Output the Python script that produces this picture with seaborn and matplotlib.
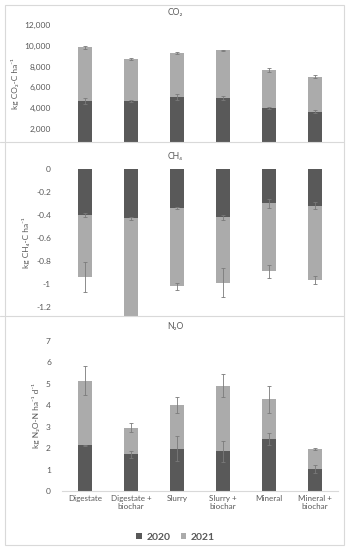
import numpy as np
import pandas as pd
import matplotlib
matplotlib.use("Agg")
import matplotlib.pyplot as plt
import seaborn as sns
from matplotlib.patches import Patch, Rectangle
from matplotlib.lines import Line2D

sns.set_theme(style="white")
plt.rcParams['font.family'] = ['Lato', 'DejaVu Sans']

categories = ["Digestate", "Digestate +\nbiochar", "Slurry", "Slurry +\nbiochar", "Mineral", "Mineral +\nbiochar"]

co2_2020 = [4700, 4700, 5050, 5000, 4050, 3680]
co2_2021 = [5150, 4050, 4240, 4560, 3620, 3360]
co2_err2020 = [300, 120, 300, 180, 100, 100]
co2_err2021 = [120, 80, 80, 80, 180, 120]

ch4_2020 = [-0.40, -0.43, -0.34, -0.42, -0.30, -0.32]
ch4_2021 = [-0.54, -0.92, -0.68, -0.57, -0.59, -0.65]
ch4_err2020 = [0.02, 0.01, 0.01, 0.02, 0.04, 0.03]
ch4_err2021 = [0.13, 0.01, 0.03, 0.125, 0.055, 0.035]

n2o_2020 = [2.12, 1.71, 1.97, 1.85, 2.41, 1.03]
n2o_2021 = [3.01, 1.24, 2.05, 3.06, 1.86, 0.93]
n2o_err2020 = [0.03, 0.15, 0.57, 0.48, 0.28, 0.17]
n2o_err2021 = [0.68, 0.22, 0.38, 0.52, 0.62, 0.04]

DARK = "#595959"
LIGHT = "#ababab"
TXT = "#595959"
ERR = "#7a7a7a"

W, H = 351, 550
fig = plt.figure(figsize=(W / 100, H / 100), dpi=100)

# outer frame and separators
fig.patches.append(Rectangle((5 / W, 1 - 545 / H), 339 / W, 540 / H, transform=fig.transFigure,
                             fill=False, edgecolor="#d9d9d9", linewidth=0.8))
for ysep in (142, 316):
    fig.lines.append(Line2D([0 / W, 344 / W], [1 - ysep / H, 1 - ysep / H],
                            transform=fig.transFigure, color="#d9d9d9", linewidth=0.8))

left = 62 / W
width = 276 / W


def panel(top_px, bot_px, v2020, v2021, e2020, e2021, ylim, ticks, ticklabels, title, ylabel, title_px, show_x):
    ax = fig.add_axes([left, 1 - bot_px / H, width, (bot_px - top_px) / H])
    total = [a + b for a, b in zip(v2020, v2021)]
    df = pd.DataFrame({"cat": categories, "total": total, "y2020": v2020})
    sns.barplot(data=df, x="cat", y="total", color=LIGHT, saturation=1, width=0.32,
                errorbar=None, ax=ax, linewidth=0)
    sns.barplot(data=df, x="cat", y="y2020", color=DARK, saturation=1, width=0.32,
                errorbar=None, ax=ax, linewidth=0)
    xs = np.arange(len(categories))
    ax.errorbar(xs, v2020, yerr=e2020, fmt="none", ecolor=ERR, elinewidth=0.6, capsize=1.2, capthick=0.6)
    ax.errorbar(xs, total, yerr=e2021, fmt="none", ecolor=ERR, elinewidth=0.6, capsize=1.2, capthick=0.6)
    ax.set_ylim(*ylim)
    ax.set_xlim(-0.5, len(categories) - 0.5)
    ax.set_yticks(ticks)
    ax.set_yticklabels(ticklabels)
    ax.tick_params(axis="y", length=0, labelsize=6, labelcolor=TXT, pad=8)
    for s in ax.spines.values():
        s.set_visible(False)
    if show_x:
        ax.spines["bottom"].set_visible(True)
        ax.spines["bottom"].set_color("#d9d9d9")
        ax.spines["bottom"].set_linewidth(0.8)
        ax.tick_params(axis="x", length=0, labelsize=5.8, labelcolor=TXT, pad=3)
    else:
        ax.set_xticks([])
    ax.set_xlabel("")
    ax.set_ylabel(ylabel, fontsize=6, color=TXT, labelpad=4)
    fig.text(0.5, 1 - title_px / H, title, ha="center", va="center", fontsize=6.2, color=TXT)
    return ax


panel(25, 142, co2_2020, co2_2021, co2_err2020, co2_err2021, (750, 12000),
      [2000, 4000, 6000, 8000, 10000, 12000], ["2,000", "4,000", "6,000", "8,000", "10,000", "12,000"],
      "CO₂", "kg CO₂-C ha⁻¹", 13, False)

panel(169, 316, ch4_2020, ch4_2021, ch4_err2020, ch4_err2021, (-1.28, 0),
      [0, -0.2, -0.4, -0.6, -0.8, -1.0, -1.2], ["0", "-0.2", "-0.4", "-0.6", "-0.8", "-1", "-1.2"],
      "CH₄", "kg CH₄-C ha⁻¹", 157, False)

panel(340.7, 491, n2o_2020, n2o_2021, n2o_err2020, n2o_err2021, (0, 7),
      list(range(8)), [str(i) for i in range(8)],
      "N₂O", "kg N₂O-N ha⁻¹ d⁻¹", 327, True)

handles = [Patch(facecolor=DARK, edgecolor="none", label="2020"),
           Patch(facecolor=LIGHT, edgecolor="none", label="2021")]
fig.legend(handles=handles, loc="center", bbox_to_anchor=(0.5, 1 - 537 / H), ncol=2, frameon=False,
           fontsize=7.5, handlelength=0.55, handleheight=0.55, handletextpad=0.4, columnspacing=1.0,
           labelcolor=TXT, prop={"weight": "bold", "size": 7.5})

fig.savefig("out.png", dpi=100)
